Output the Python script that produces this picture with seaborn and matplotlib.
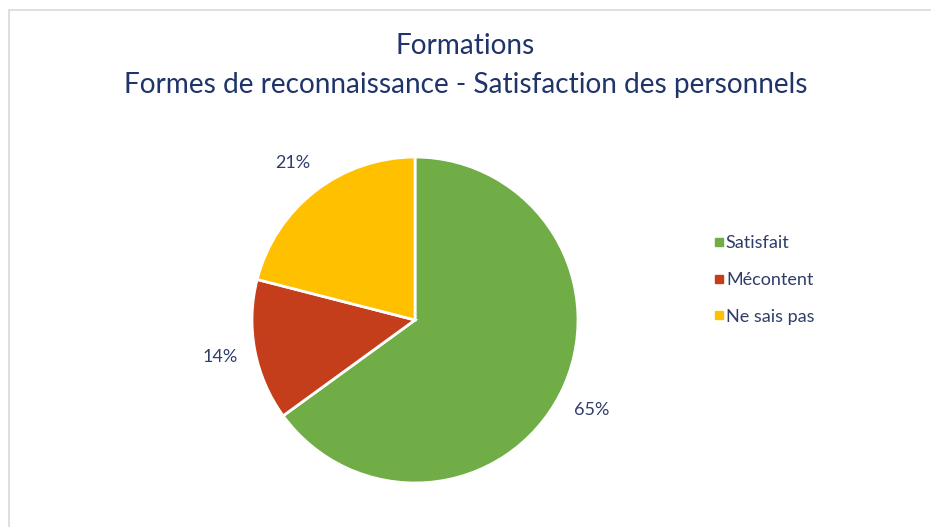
import matplotlib
matplotlib.use('Agg')
import matplotlib.pyplot as plt
from matplotlib.lines import Line2D
from matplotlib.patches import Rectangle
import seaborn as sns

# dados do grafico
categorias = ['Satisfait', 'Mécontent', 'Ne sais pas']
valores = [65, 14, 21]
cores = ['#70AD47', '#C43E1C', '#FFC000']

sns.set_theme(style='white')
plt.rcParams['font.family'] = ['Lato', 'DejaVu Sans']
paleta = sns.color_palette(cores)

W, H = 931, 527
fig = plt.figure(figsize=(W / 100, H / 100), dpi=100)

# moldura cinza clara
fig.patches.append(Rectangle((9 / W, -0.1), 1.2, 1.1 - 10 / H, transform=fig.transFigure,
                             fill=False, edgecolor='#D9D9D9', linewidth=1.2))

# eixo da pizza: centro (415, 320), raio 163 px
cx, cy, r = 415, 320, 163
lado = r * 2.4
ax = fig.add_axes([(cx - lado / 2) / W, 1 - (cy + lado / 2) / H, lado / W, lado / H])
wedges, texts, autotexts = ax.pie(valores, colors=paleta, startangle=90, counterclock=False,
                                  autopct='%1.0f%%', pctdistance=1.22, radius=1,
                                  wedgeprops=dict(edgecolor='white', linewidth=2))
for t in autotexts:
    t.set(color='#2F3D6B', fontsize=13)
ax.set_xlim(-1.2, 1.2)
ax.set_ylim(-1.2, 1.2)
ax.set_aspect('equal')
ax.axis('off')

fig.text(0.5, 1 - 46 / H, 'Formations', ha='center', va='center', fontsize=20.2,
         color='#1F3468')
fig.text(0.5, 1 - 85 / H, 'Formes de reconnaissance - Satisfaction des personnels',
         ha='center', va='center', fontsize=20.2, color='#1F3468')

# legenda
handles = [Line2D([], [], marker='s', linestyle='', markersize=6, color=c) for c in paleta]
leg = fig.legend(handles, categorias, loc='upper left', bbox_to_anchor=(697 / W, 1 - 219 / H),
                 frameon=False, fontsize=13, handlelength=0.6, handletextpad=0.1,
                 labelspacing=1.15)
for t in leg.get_texts():
    t.set_color('#2F3D6B')

fig.savefig('out.png', dpi=100, facecolor='white')
